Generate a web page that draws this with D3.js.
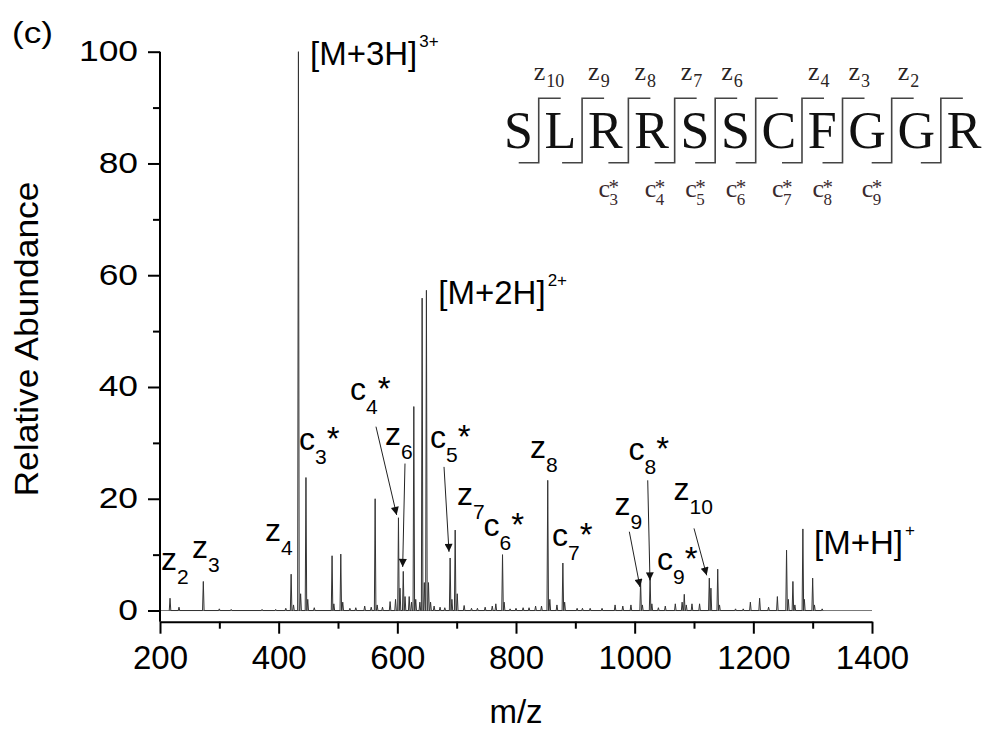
<!DOCTYPE html>
<html><head><meta charset="utf-8">
<script src="https://cdn.jsdelivr.net/npm/d3@7"></script>
<style>body{margin:0;background:#fff} svg{display:block}</style>
</head><body>
<svg id="chart" width="987" height="729"></svg>
<script>
// ---- data ----
const peakMz = [216.9,232,273,300,320,372,395,412,421,425,433.3,437,446,449,460,490,493,504.7,508,520,530,545,556,562.6,566,575,587.8,597,601.9,604.5,610,613,620,624,627.8,631,638,641.8,645.5,649,652.5,656,662,672,680,689,692,697.5,701,712.6,725,735,748,760,766,777.3,780,790,800,812,822,833,843,853.5,857,869,879,882,903,912,925,945,967,980,993.7,1010,1013,1026,1029,1040,1051.6,1068.5,1080,1083.6,1087,1096.6,1109.4,1125.8,1128.5,1140,1143,1170,1183,1195,1210.6,1225.7,1240.5,1256,1259,1266.7,1270,1283.5,1286,1300,1303,1316];
const peakInt = [2.2,0.6,5.2,0.3,0.2,0.2,0.2,0.4,6.5,1.0,100,3,23.8,2,0.5,9.8,1.2,10.1,1.5,0.4,0.5,0.8,0.6,20,1,0.6,1.6,2,16.6,4,7,2.5,2.5,1.5,36.5,2,1.5,55.9,5,57.3,5,1.5,0.8,0.6,0.5,9.4,2,14.4,3,0.9,0.4,0.4,0.6,0.8,1.2,10,1.5,0.3,0.4,0.5,0.5,0.8,0.8,23.3,2,1,8.5,1.5,0.4,0.4,0.4,0.4,1,0.8,1,5.2,1,5.8,1.2,0.5,0.8,1.2,1.5,2.9,1,1.2,1.2,5.8,4,7.4,1,0.3,0.3,1.5,2.2,0.6,2.5,10.8,2,5.2,1,14.6,2,5.8,1,0.3];

const xTicksMajor = [200,400,600,800,1000,1200,1400];
const xTicksMinor = [300,500,700,900,1100,1300];
const yTicksMajor = [0,20,40,60,80,100];
const yTicksMinor = [10,30,50,70,90];

const residues = ["S","L","R","R","S","S","C","F","G","G","R"];
const zSites = ["10","9","8","7","6",null,"4","3","2",null];
const cSites = [null,null,"3","4","5","6","7","8","9",null];

const fragLabels = [
  {ion:"z", n:"2",  star:false, mz:203.4,  y:7.25},
  {ion:"z", n:"3",  star:false, mz:255.6,  y:9.34},
  {ion:"z", n:"4",  star:false, mz:378.6,  y:12.44},
  {ion:"c", n:"3",  star:true,  mz:436.0,  y:28.72},
  {ion:"c", n:"4",  star:true,  mz:521.9,  y:37.76},
  {ion:"z", n:"6",  star:false, mz:580.9,  y:29.6},
  {ion:"c", n:"5",  star:true,  mz:656.7,  y:29.1},
  {ion:"z", n:"7",  star:false, mz:702.2,  y:18.9},
  {ion:"c", n:"6",  star:true,  mz:746.9,  y:13.3},
  {ion:"z", n:"8",  star:false, mz:825.3,  y:27.3},
  {ion:"c", n:"7",  star:true,  mz:862.4,  y:11.5},
  {ion:"z", n:"9",  star:false, mz:967.7,  y:17.1},
  {ion:"c", n:"8",  star:true,  mz:991.3,  y:27.0},
  {ion:"c", n:"9",  star:true,  mz:1039.3, y:7.3},
  {ion:"z", n:"10", star:false, mz:1067.2, y:19.8}
];
const precursorLabels = [
  {text:"[M+3H]", sup:"3+", mz:452.8,  y:97.6},
  {text:"[M+2H]", sup:"2+", mz:669.1,  y:54.9},
  {text:"[M+H]",  sup:"+",  mz:1302.3, y:10.2}
];
const arrows = [
  {mz0:564.0,  y0:32.9, mz1:598.9,  y1:17.1},
  {mz0:612.9,  y0:26.3, mz1:609.0,  y1:7.8},
  {mz0:678.7,  y0:25.7, mz1:687.1,  y1:10.5},
  {mz0:991.0,  y0:14.1, mz1:1009.0, y1:4.2},
  {mz0:1022.0, y0:23.3, mz1:1025.8, y1:5.4},
  {mz0:1100.0, y0:14.7, mz1:1121.4, y1:6.3}
];

// ---- drawing ----
const svg = d3.select("#chart");
const SANS = "'Liberation Sans', Arial, sans-serif";
const SERIF = "'Liberation Serif', 'Times New Roman', serif";
const x = d3.scaleLinear().domain([200,1400]).range([160,872]);
const y = d3.scaleLinear().domain([-2,100]).range([621.7,51.7]);

svg.append("defs").append("marker")
  .attr("id","ah").attr("viewBox","0 0 10 10").attr("refX",10).attr("refY",5)
  .attr("markerUnits","userSpaceOnUse").attr("markerWidth",16).attr("markerHeight",8)
  .attr("orient","auto")
  .append("path").attr("d","M0,0L10,5L0,10Z").attr("fill","#111");

// baseline + spectrum
svg.append("line").attr("x1",x(200)).attr("x2",x(1400)).attr("y1",y(0)).attr("y2",y(0))
  .attr("stroke","#777").attr("stroke-width",1);
const pts = [];
const order = d3.range(peakMz.length).sort((a,b)=>peakMz[a]-peakMz[b]);
const hw = 1.3;
order.forEach(i => { pts.push([peakMz[i]-hw,0],[peakMz[i],peakInt[i]],[peakMz[i]+hw,0]); });
svg.append("path")
  .attr("d", d3.line().x(d=>x(d[0])).y(d=>y(d[1]))(pts))
  .attr("fill","none").attr("stroke","#333").attr("stroke-width",1);

// axes
function styleAxis(g){
  g.selectAll("path.domain").attr("stroke","#000").attr("stroke-width",2);
  g.selectAll(".tick line").attr("stroke","#000").attr("stroke-width",2);
}
const gx = svg.append("g").attr("transform",`translate(0,${y(-2)})`)
  .call(d3.axisBottom(x).tickValues(xTicksMajor).tickSize(12).tickSizeOuter(0).tickPadding(12).tickFormat(d3.format("d")));
styleAxis(gx);
gx.selectAll("text").attr("font-family",SANS).attr("font-size",33).attr("fill","#000").attr("y",24).attr("dy","0.71em");
const gxm = svg.append("g").attr("transform",`translate(0,${y(-2)})`)
  .call(d3.axisBottom(x).tickValues(xTicksMinor).tickSize(7).tickFormat(""));
gxm.select("path.domain").remove();
styleAxis(gxm);

const gy = svg.append("g").attr("transform",`translate(${x(200)},0)`)
  .call(d3.axisLeft(y).tickValues(yTicksMajor).tickSize(12).tickSizeOuter(0).tickFormat(d3.format("d")));
styleAxis(gy);
gy.selectAll("text").attr("font-family",SANS).attr("font-size",30).attr("fill","#000")
  .attr("transform","scale(1.18,1)").attr("x",-22/1.18).attr("dy","0.3em");
const gym = svg.append("g").attr("transform",`translate(${x(200)},0)`)
  .call(d3.axisLeft(y).tickValues(yTicksMinor).tickSize(7).tickFormat(""));
gym.select("path.domain").remove();
styleAxis(gym);
gy.select("path.domain").attr("d",`M0,${y(-2)}V${y(100)}`);

// axis titles
svg.append("text").attr("transform","translate(37.5,339) rotate(-90)")
  .attr("text-anchor","middle").attr("font-family",SANS).attr("font-size",33.5)
  .attr("textLength",315).attr("lengthAdjust","spacingAndGlyphs").text("Relative Abundance");
svg.append("text").attr("x",516).attr("y",723).attr("text-anchor","middle")
  .attr("font-family",SANS).attr("font-size",33).text("m/z");
svg.append("text").attr("x",12).attr("y",42.5).attr("font-family",SANS).attr("font-size",30)
  .attr("textLength",41).attr("lengthAdjust","spacingAndGlyphs").text("(c)");

// arrows
svg.selectAll("line.arrow").data(arrows).enter().append("line").attr("class","arrow")
  .attr("x1",d=>x(d.mz0)).attr("y1",d=>y(d.y0)).attr("x2",d=>x(d.mz1)).attr("y2",d=>y(d.y1))
  .attr("stroke","#222").attr("stroke-width",1).attr("marker-end","url(#ah)");

// fragment labels
fragLabels.forEach(d=>{
  const t = svg.append("text").attr("x",x(d.mz)-1).attr("y",y(d.y))
    .attr("font-family",SANS).attr("font-size",32).attr("fill","#000");
  t.append("tspan").text(d.ion);
  t.append("tspan").attr("font-size",21).attr("dy",14).text(d.n);
  if (d.star) t.append("tspan").attr("font-size",33).attr("dy",-14).text("*");
});
precursorLabels.forEach(d=>{
  const t = svg.append("text").attr("x",x(d.mz)).attr("y",y(d.y))
    .attr("font-family",SANS).attr("font-size",33).attr("fill","#000");
  t.append("tspan").text(d.text);
  t.append("tspan").attr("font-size",17).attr("dy",-18).attr("dx",2).text(d.sup);
});

// sequence inset
const seq = svg.append("g");
const letterBase = 148.3, topY = 98.3, botY = 162.7, gap = 11.6;
let cx = 504;
const spans = [];
residues.forEach(r=>{
  const t = seq.append("text").attr("x",cx).attr("y",letterBase)
    .attr("font-family",SERIF).attr("font-size",52).attr("fill","#111").text(r);
  const w = t.node().getComputedTextLength();
  spans.push([cx, cx+w]);
  cx += w + gap;
});
for (let i=0;i<spans.length-1;i++){
  const sx = (spans[i][1]+spans[i+1][0])/2;
  seq.append("path").attr("d",`M${sx+22},${topY}H${sx}V${botY}H${sx-20}`)
    .attr("fill","none").attr("stroke","#444").attr("stroke-width",1.6);
  if (zSites[i]) {
    const t = seq.append("text").attr("x", sx + (zSites[i].length>1 ? -5 : 6)).attr("y",80)
      .attr("font-family",SERIF).attr("font-size",26).attr("fill","#2a2424");
    t.append("tspan").text("z");
    t.append("tspan").attr("font-size",18).attr("dy",7).attr("dx",1).text(zSites[i]);
  }
  if (cSites[i]) {
    const lx = sx - 30;
    const t = seq.append("text").attr("x",lx).attr("y",196.7).attr("font-family",SERIF)
      .attr("font-size",26).attr("fill","#3a2a2e");
    t.append("tspan").text("c");
    t.append("tspan").attr("x",lx+11).attr("y",205).attr("font-size",17).text(cSites[i]);
    t.append("tspan").attr("x",lx+10).attr("y",194).attr("font-size",21).text("*");
  }
}
</script>
</body></html>
